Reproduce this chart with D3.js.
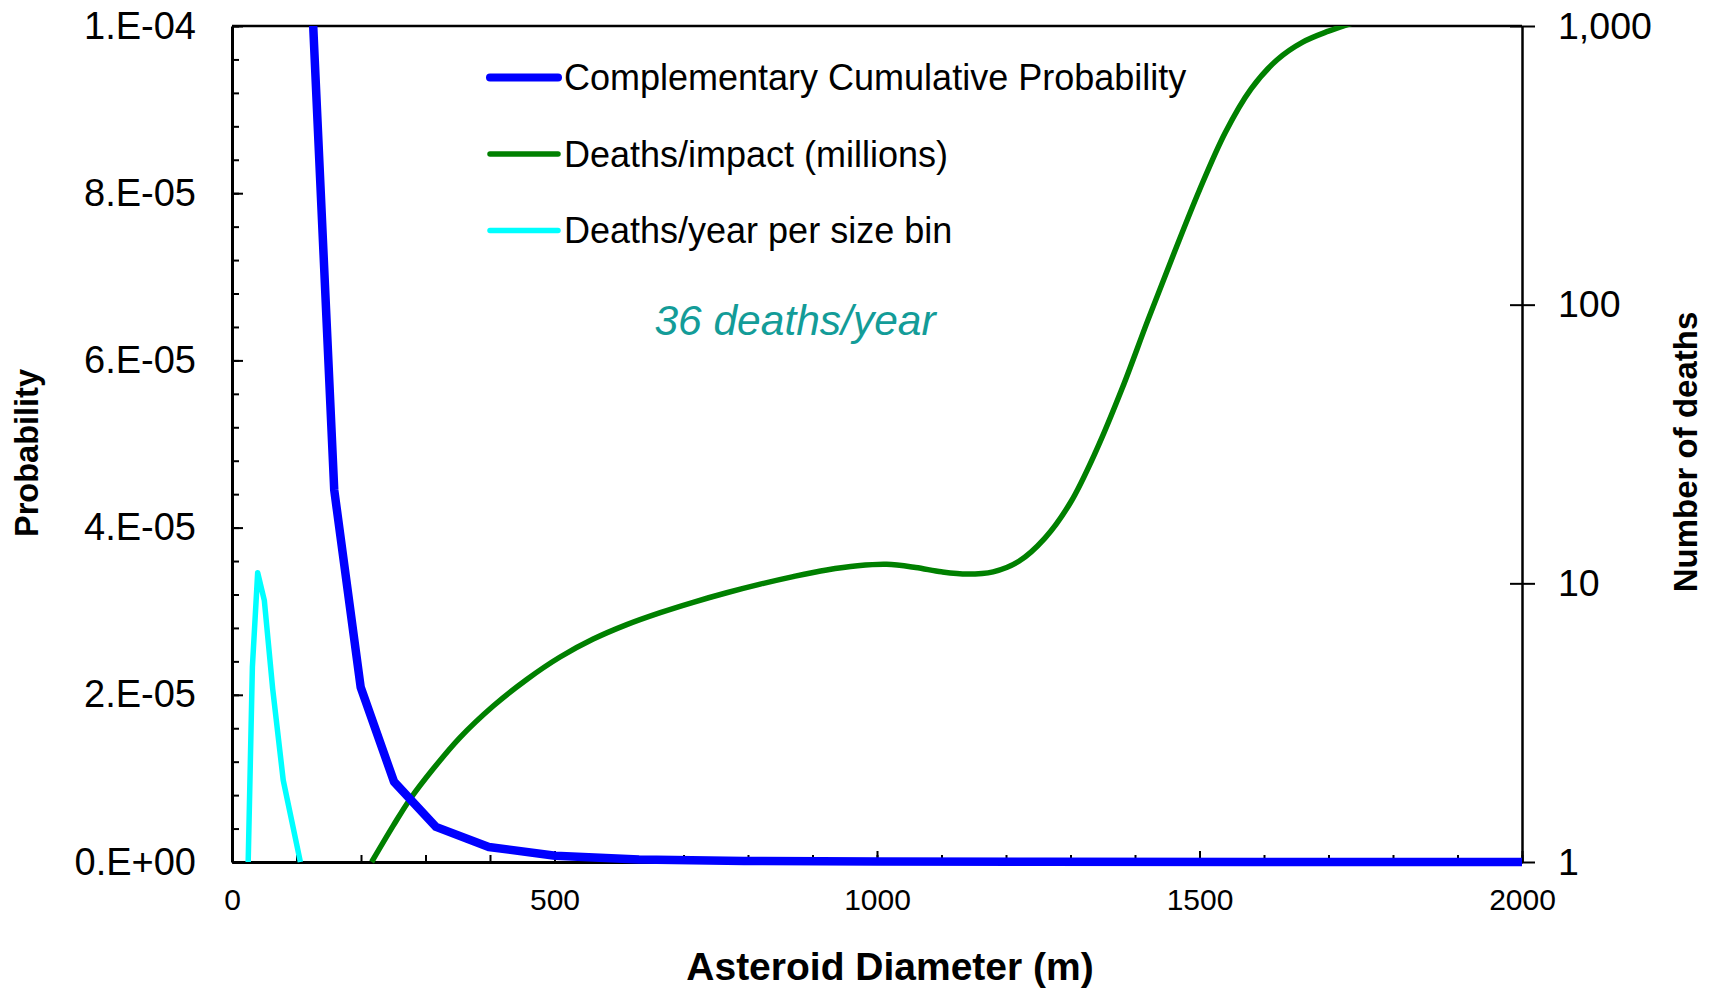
<!DOCTYPE html>
<html>
<head>
<meta charset="utf-8">
<script src="https://cdn.jsdelivr.net/npm/d3@7"></script>
<style>
  html, body { margin: 0; padding: 0; background: #fff; }
  svg { display: block; font-family: "Liberation Sans", Arial, sans-serif; }
</style>
</head>
<body>
<div id="chart"></div>
<script>
// complementary cumulative probability (left axis)
const ccpDiam = [100, 125.9, 158.5, 199.5, 251.2, 316.2, 398.1, 501.2, 631, 794.3, 1000, 1258.9, 1584.9, 2000]
const ccpValue = [2.1e-4, 1.0e-4, 4.45e-5, 2.09e-5, 9.6e-6, 4.2e-6, 1.8e-6, 7.5e-7, 3e-7, 1.2e-7, 5e-8, 2e-8, 1e-8, 4e-9]

// deaths per impact, millions (right log axis)
const deathDiam = [216.5, 250, 276, 312, 353, 405, 457, 508, 560, 612, 664, 715, 767, 819, 870, 922, 970, 1015,
  1060, 1100, 1140, 1180, 1220, 1260, 1300, 1340, 1380, 1420, 1460, 1500, 1540, 1580, 1620, 1660, 1700, 1740]
const deathValue = [1.0, 1.35, 1.68, 2.16, 2.79, 3.63, 4.52, 5.43, 6.31, 7.11, 7.85, 8.55, 9.25, 9.93, 10.57, 11.17, 11.56, 11.7,
  11.4, 11.0, 10.8, 11.0, 12.0, 14.5, 19.5, 30, 50, 88, 152, 258, 415, 595, 755, 875, 958, 1030]

// deaths per year per size bin (left axis)
const binDiam = [25.1, 31.6, 39.8, 50.1, 63.1, 79.4, 106]
const binValue = [0, 2.33e-5, 3.46e-5, 3.13e-5, 2.07e-5, 9.8e-6, 0]

const probTicks = [0, 2e-5, 4e-5, 6e-5, 8e-5, 1e-4]
const deathTicks = [1, 10, 100, 1000]
const diamTicks = [0, 500, 1000, 1500, 2000]

const legendLabels = ["Complementary Cumulative Probability", "Deaths/impact (millions)", "Deaths/year per size bin"]
const seriesColors = ["#0000ff", "#008000", "#00ffff"]

const W = 1713, H = 988
const M = { left: 232, right: 1522, top: 26, bottom: 862 }

const svg = d3.select("#chart").append("svg").attr("width", W).attr("height", H)

// SCALES ----------------------
const x = d3.scaleLinear().domain([0, 2000]).range([M.left, M.right])
const yL = d3.scaleLinear().domain([0, 1e-4]).range([M.bottom, M.top])
const yR = d3.scaleLog().domain([1, 1000]).range([M.bottom, M.top])

const fmtProb = d => {
  if (d === 0) return "0.E+00"
  const e = Math.floor(Math.log10(d) + 1e-9)
  const m = Math.round(d / Math.pow(10, e))
  return `${m}.E${e < 0 ? "-" : "+"}${String(Math.abs(e)).padStart(2, "0")}`
}

// AXES ------------------------
const styleAxis = (g, size) => {
  g.selectAll("text").attr("font-size", size).attr("fill", "#000")
    .attr("font-family", "'Liberation Sans', Arial, sans-serif")
  g.selectAll("line").attr("stroke", "#000").attr("stroke-width", 2)
  g.select(".domain").attr("stroke", "#000").attr("stroke-width", 3)
}

// minor ticks
svg.append("g").attr("transform", `translate(${M.left},0)`)
  .call(d3.axisLeft(yL).tickValues(d3.range(0, 1.0001e-4, 4e-6)).tickSize(-7).tickFormat(""))
  .call(g => g.select(".domain").remove())
  .call(g => g.selectAll("line").attr("stroke", "#000").attr("stroke-width", 2))
svg.append("g").attr("transform", `translate(0,${M.bottom})`)
  .call(d3.axisBottom(x).tickValues(d3.range(0, 2001, 100)).tickSize(-7).tickFormat(""))
  .call(g => g.select(".domain").remove())
  .call(g => g.selectAll("line").attr("stroke", "#000").attr("stroke-width", 2))

// top frame line
svg.append("line")
  .attr("x1", M.left).attr("x2", M.right).attr("y1", M.top).attr("y2", M.top)
  .attr("stroke", "#000").attr("stroke-width", 2.5)

const gLeft = svg.append("g").attr("transform", `translate(${M.left},0)`)
  .call(d3.axisLeft(yL).tickValues(probTicks).tickSize(-11).tickSizeOuter(0).tickPadding(36).tickFormat(fmtProb))
styleAxis(gLeft, 38)

const gBottom = svg.append("g").attr("transform", `translate(0,${M.bottom})`)
  .call(d3.axisBottom(x).tickValues(diamTicks).tickSize(-11).tickSizeOuter(0).tickPadding(27).tickFormat(d3.format("d")))
styleAxis(gBottom, 30)

svg.append("g").attr("transform", `translate(${M.right},0)`)
  .call(d3.axisLeft(yR).tickValues(deathTicks).tickSize(12).tickFormat(""))
  .call(g => g.select(".domain").remove())
  .call(g => g.selectAll("line").attr("stroke", "#000").attr("stroke-width", 2))
const gRight = svg.append("g").attr("transform", `translate(${M.right},0)`)
  .call(d3.axisRight(yR).tickValues(deathTicks).tickSize(13).tickSizeOuter(0).tickPadding(23).tickFormat(d3.format(",")))
styleAxis(gRight, 37.5)
gRight.select(".domain").attr("stroke-width", 2.5)

// LINES -----------------------
svg.append("clipPath").attr("id", "plot-clip")
  .append("rect").attr("x", M.left - 10).attr("y", M.top)
  .attr("width", M.right - M.left + 10).attr("height", M.bottom - M.top + 12)

const plot = svg.append("g").attr("clip-path", "url(#plot-clip)")

const lineL = d3.line().x(d => x(d[0])).y(d => yL(d[1]))
const lineR = d3.line().x(d => x(d[0])).y(d => yR(d[1])).curve(d3.curveCatmullRom.alpha(0.5))

plot.append("path")
  .datum(binDiam.map((d, i) => [d, binValue[i]]))
  .attr("d", lineL).attr("fill", "none")
  .attr("stroke", seriesColors[2]).attr("stroke-width", 5.5).attr("stroke-linejoin", "round")

plot.append("path")
  .datum(deathDiam.map((d, i) => [d, deathValue[i]]))
  .attr("d", lineR).attr("fill", "none")
  .attr("stroke", seriesColors[1]).attr("stroke-width", 5.5).attr("stroke-linejoin", "round")

plot.append("path")
  .datum(ccpDiam.map((d, i) => [d, ccpValue[i]]))
  .attr("d", lineL).attr("fill", "none")
  .attr("stroke", seriesColors[0]).attr("stroke-width", 8.5).attr("stroke-linejoin", "round")

// LEGEND ----------------------
const legend = svg.append("g")
const legendY = [77.6, 154, 230.5]
const legendW = [8, 5.5, 5.5]
legendLabels.forEach((label, i) => {
  legend.append("line")
    .attr("x1", 490).attr("x2", 558).attr("y1", legendY[i]).attr("y2", legendY[i])
    .attr("stroke", seriesColors[i]).attr("stroke-width", legendW[i]).attr("stroke-linecap", "round")
  legend.append("text")
    .attr("x", 564).attr("y", legendY[i]).attr("dy", "0.35em")
    .attr("font-size", 36).attr("fill", "#000")
    .text(label)
})

svg.append("text")
  .attr("x", 795).attr("y", 320).attr("dy", "0.35em")
  .attr("text-anchor", "middle").attr("font-size", 42.5).attr("font-style", "italic")
  .attr("fill", "#139c98")
  .text("36 deaths/year")

// AXIS TITLES -----------------
svg.append("text")
  .attr("x", 890).attr("y", 966).attr("dy", "0.35em")
  .attr("text-anchor", "middle").attr("font-size", 39).attr("font-weight", "bold")
  .text("Asteroid Diameter (m)")

svg.append("text")
  .attr("transform", `translate(27,453) rotate(-90)`).attr("dy", "0.35em")
  .attr("text-anchor", "middle").attr("font-size", 32.5).attr("font-weight", "bold")
  .text("Probability")

svg.append("text")
  .attr("transform", `translate(1685,452) rotate(-90)`).attr("dy", "0.35em")
  .attr("text-anchor", "middle").attr("font-size", 33).attr("font-weight", "bold")
  .text("Number of deaths")
</script>
</body>
</html>
